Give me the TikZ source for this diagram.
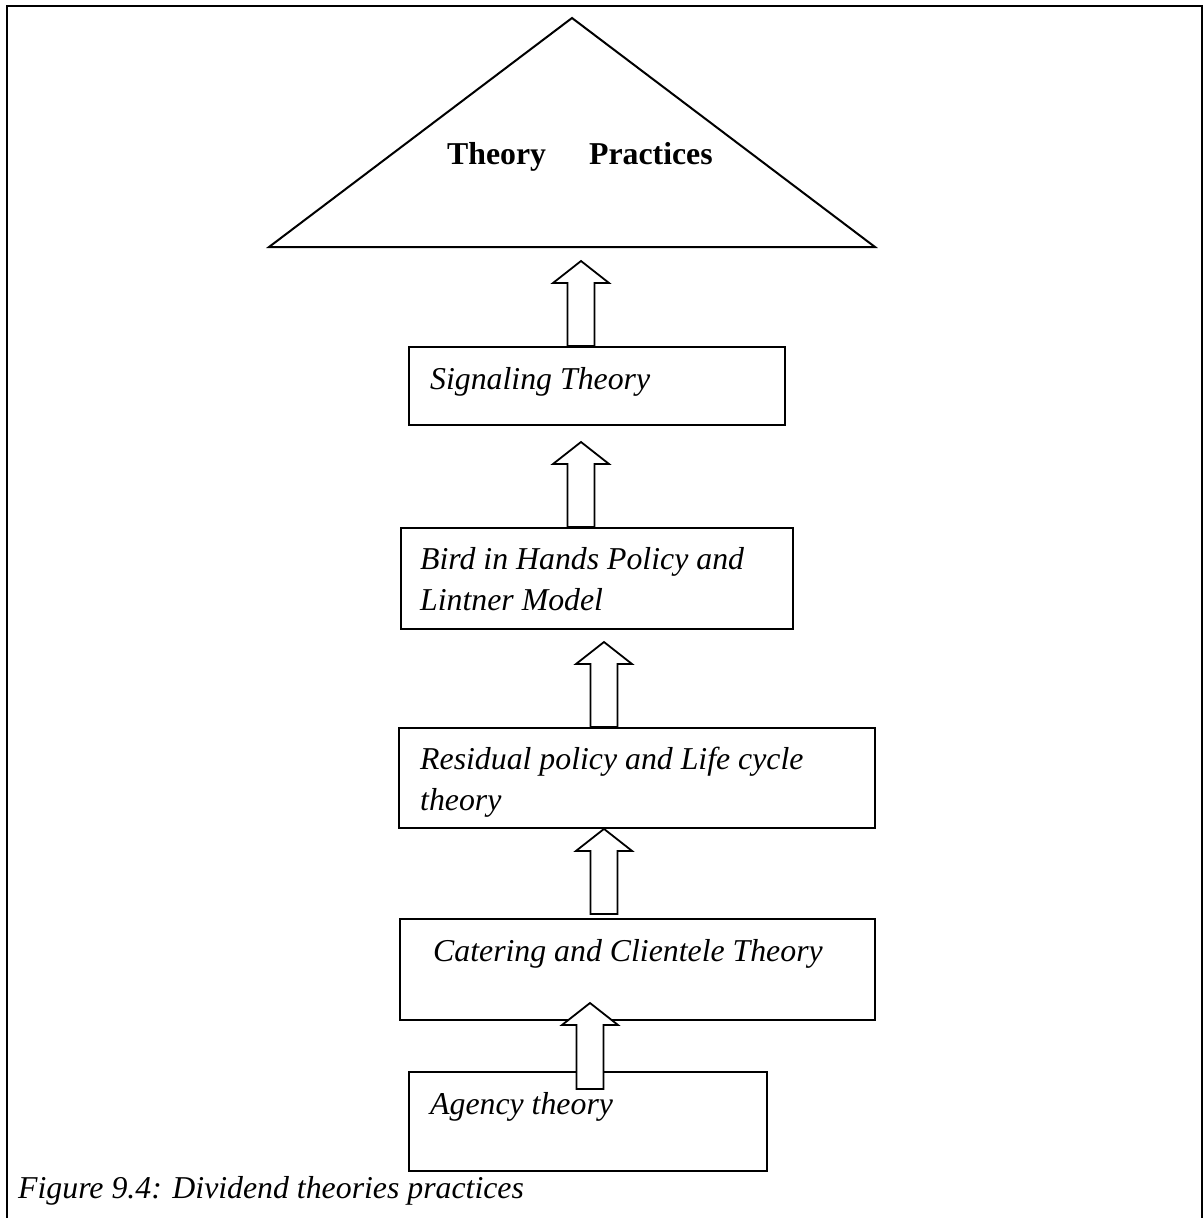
\documentclass[tikz,border=0pt]{standalone}
\usepackage{fontspec}
\setmainfont{Liberation Serif}
\usetikzlibrary{calc}

\tikzset{
    box/.style={draw, line width=1.8pt, inner sep=0pt},
    boxtext/.style={anchor=base west, inner sep=0pt, align=left,
        font=\fontsize{31.8}{41}\selectfont\itshape},
    blockarr/.style={draw, fill=white, line width=1.8pt, line join=miter},
}

% hollow up arrow: #1 = foot, #2 = tip
\newcommand{\fatarrow}[2]{%
    \draw[blockarr] ($(#1)+(-13.5,0)$) -- ($(#2)+(-13.5,22)$) -- ($(#2)+(-28,22)$)
        -- (#2) -- ($(#2)+(28,22)$) -- ($(#2)+(13.5,22)$) -- ($(#1)+(13.5,0)$) -- cycle;}

\begin{document}
\begin{tikzpicture}[x=1pt, y=-1pt]
    \useasboundingbox (0,0) rectangle (1204,1218);

    % Frame, open at the bottom
    \draw[line width=2pt] (7,1218) -- (7,6) -- (1202,6) -- (1202,1218);

    % Corners of the top triangle
    \coordinate (apex) at (572,18);
    \coordinate (bl) at (269,247);
    \coordinate (br) at (875,247);
    \draw[line width=2pt] (bl) -- (apex) -- (br) -- cycle;
    \node[anchor=base west, inner sep=0pt, font=\fontsize{31.8}{38}\selectfont\bfseries]
        (top) at (447,164) {Theory\hspace*{43pt}Practices};

    % The boxes
    \node[box, minimum width=376, minimum height=78]  (sig)    at (597,386)    {};
    \node[box, minimum width=392, minimum height=101] (bird)   at (597,578.5)  {};
    \node[box, minimum width=476, minimum height=100] (resid)  at (637,778)    {};
    \node[box, minimum width=475, minimum height=101] (cater)  at (637.5,969.5) {};
    \node[box, minimum width=358, minimum height=99]  (agency) at (588,1121.5) {};

    % (base of a two-line text is its last line)
    \node[boxtext] (sigtxt)    at (430,389)  {Signaling Theory};
    \node[boxtext] (birdtxt)   at (420,610)  {Bird in Hands Policy and\\Lintner Model};
    \node[boxtext] (residtxt)  at (420,810)  {Residual policy and Life cycle\\theory};
    \node[boxtext] (catertxt)  at (433,961)  {Catering and Clientele Theory};
    \node[boxtext] (agencytxt) at (430,1114) {Agency theory};

    % Arrow ends
    \coordinate (a1t) at (581,261);
    \coordinate (a1f) at (581,0 |- sig.north);
    \coordinate (a2t) at (581,442);
    \coordinate (a2f) at (581,0 |- bird.north);
    \coordinate (a3t) at (604,642);
    \coordinate (a3f) at (604,0 |- resid.north);
    \coordinate (a4t) at (604,0 |- resid.south);
    \coordinate (a4f) at (604,914);
    \coordinate (a5t) at (590,1003);
    \coordinate (a5f) at (590,1089);

    \fatarrow{a1f}{a1t}
    \fatarrow{a2f}{a2t}
    \fatarrow{a3f}{a3t}
    \fatarrow{a4f}{a4t}
    \fatarrow{a5f}{a5t}

    % Caption
    \node[boxtext] (caption) at (18,1198) {Figure 9.4: Dividend theories practices};
\end{tikzpicture}
\end{document}
